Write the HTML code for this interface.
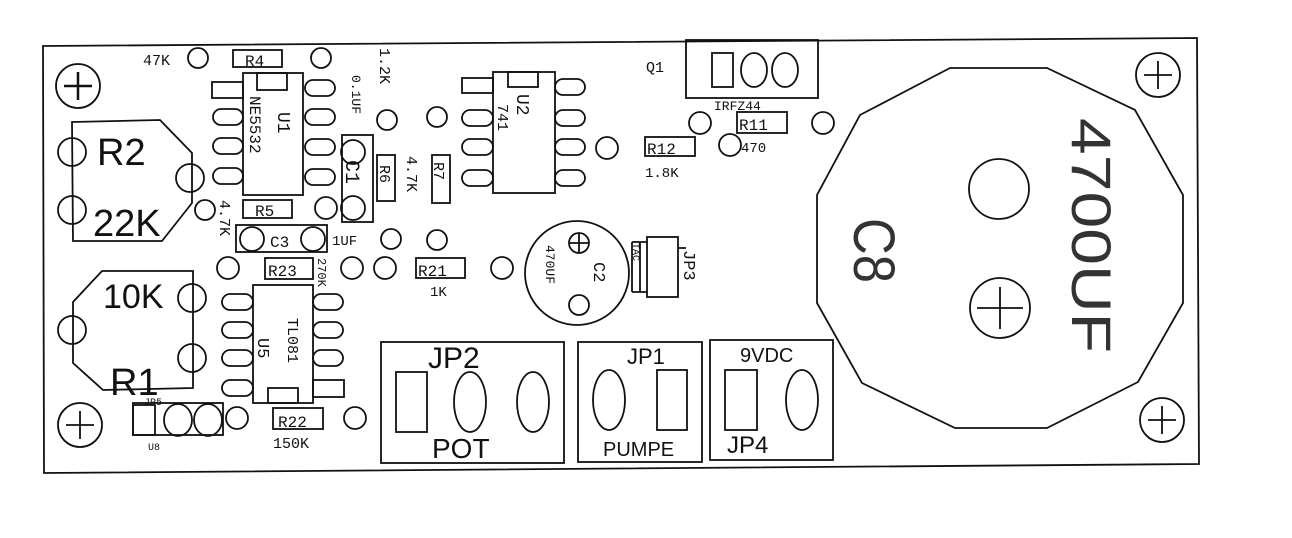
<!DOCTYPE html>
<html><head><style>body{margin:0;background:#fff}svg{display:block}</style></head><body>
<svg width="1292" height="538" viewBox="0 0 1292 538" xmlns="http://www.w3.org/2000/svg" font-family="Liberation Sans, sans-serif" fill="none" stroke="#111" stroke-width="1.8">
<polygon points="43,46 1197,38 1199,464 44,473"/>
<g>
<circle cx="78" cy="86" r="22"/><path d="M64,86h28M78,72v28" stroke-width="2.5"/>
<circle cx="80" cy="425" r="22"/><path d="M66,425h28M80,411v28"/>
<circle cx="1158" cy="75" r="22"/><path d="M1144,75h28M1158,61v28"/>
<circle cx="1162" cy="420" r="22"/><path d="M1148,420h28M1162,406v28"/>
</g>
<polygon points="950,68 1047,68 1135,110 1183,195 1183,303 1138,382 1047,428 955,428 862,383 817,303 817,195 860,115"/>
<circle cx="999" cy="189" r="30"/>
<circle cx="1000" cy="308" r="30"/><path d="M977,308h46M1000,287v42"/>
<g fill="#333" stroke="none">
<text transform="translate(1072,118) rotate(90)" font-size="56" textLength="235" lengthAdjust="spacingAndGlyphs">4700UF</text>
<text transform="translate(854,218) rotate(90)" font-size="58" textLength="65" lengthAdjust="spacingAndGlyphs">C8</text>
</g>
<circle cx="198" cy="58" r="10"/><rect x="233" y="50" width="49" height="17"/><circle cx="321" cy="58" r="10"/>
<rect x="243" y="73" width="60" height="122"/><rect x="257" y="73" width="30" height="17"/>
<rect x="212" y="82" width="31" height="16"/>
<rect x="213" y="109" width="30" height="16" rx="8"/><rect x="213" y="138" width="30" height="16" rx="8"/><rect x="213" y="168" width="30" height="16" rx="8"/>
<rect x="305" y="80" width="30" height="16" rx="8"/><rect x="305" y="109" width="30" height="16" rx="8"/><rect x="305" y="139" width="30" height="16" rx="8"/><rect x="305" y="169" width="30" height="16" rx="8"/>
<polygon points="72,122 160,120 192,153 192,203 162,241 73,241"/>
<circle cx="72" cy="152" r="14"/><circle cx="72" cy="210" r="14"/><circle cx="190" cy="178" r="14"/><circle cx="205" cy="210" r="10"/>
<circle cx="387" cy="120" r="10"/>
<rect x="342" y="135" width="31" height="87"/><circle cx="353" cy="152" r="12"/><circle cx="353" cy="208" r="12"/>
<rect x="377" y="155" width="18" height="46"/>
<rect x="432" y="155" width="18" height="48"/>
<circle cx="437" cy="117" r="10"/><circle cx="437" cy="240" r="10"/>
<rect x="243" y="200" width="49" height="18"/><circle cx="326" cy="208" r="11"/>
<rect x="236" y="225" width="91" height="27"/><circle cx="252" cy="239" r="12"/><circle cx="313" cy="239" r="12"/>
<circle cx="391" cy="239" r="10"/>
<rect x="265" y="258" width="48" height="21"/><circle cx="228" cy="268" r="11"/><circle cx="352" cy="268" r="11"/><circle cx="385" cy="268" r="11"/>
<rect x="253" y="285" width="60" height="118"/><rect x="268" y="388" width="30" height="15"/>
<rect x="222" y="294" width="31" height="16" rx="8"/><rect x="222" y="322" width="31" height="16" rx="8"/><rect x="222" y="350" width="31" height="16" rx="8"/><rect x="222" y="380" width="31" height="16" rx="8"/>
<rect x="313" y="294" width="30" height="16" rx="8"/><rect x="313" y="322" width="30" height="16" rx="8"/><rect x="313" y="350" width="30" height="16" rx="8"/><rect x="313" y="380" width="31" height="17"/>
<polygon points="73,302 102,271 193,271 193,388 103,390 73,363"/>
<circle cx="72" cy="330" r="14"/><circle cx="192" cy="298" r="14"/><circle cx="192" cy="358" r="14"/>
<rect x="133" y="403" width="90" height="32"/><rect x="133" y="405" width="22" height="30"/>
<ellipse cx="178" cy="420" rx="14" ry="16"/><ellipse cx="208" cy="420" rx="14" ry="16"/>
<circle cx="237" cy="418" r="11"/><rect x="273" y="408" width="50" height="21"/><circle cx="355" cy="418" r="11"/>
<rect x="493" y="72" width="62" height="121"/><rect x="508" y="72" width="30" height="15"/>
<rect x="462" y="78" width="31" height="15"/>
<rect x="462" y="110" width="31" height="16" rx="8"/><rect x="462" y="139" width="31" height="16" rx="8"/><rect x="462" y="170" width="31" height="16" rx="8"/>
<rect x="555" y="79" width="30" height="16" rx="8"/><rect x="555" y="110" width="30" height="16" rx="8"/><rect x="555" y="139" width="30" height="16" rx="8"/><rect x="555" y="170" width="30" height="16" rx="8"/>
<circle cx="607" cy="148" r="11"/>
<rect x="645" y="137" width="50" height="19"/>
<rect x="686" y="40" width="132" height="58"/><rect x="712" y="53" width="21" height="34"/>
<ellipse cx="754" cy="70" rx="13" ry="17"/><ellipse cx="785" cy="70" rx="13" ry="17"/>
<circle cx="700" cy="123" r="11"/><rect x="737" y="112" width="50" height="21"/><circle cx="823" cy="123" r="11"/><circle cx="730" cy="145" r="11"/>
<circle cx="577" cy="273" r="52"/>
<circle cx="579" cy="243" r="10"/><path d="M569,243h20M579,233v20"/>
<circle cx="579" cy="305" r="10"/>
<rect x="647" y="237" width="31" height="60"/><path d="M632,242h15M632,292h15M632,242v50M640,242v50M678,248h8"/>
<rect x="416" y="258" width="49" height="20"/><circle cx="502" cy="268" r="11"/>
<rect x="381" y="342" width="183" height="121"/><rect x="396" y="372" width="31" height="60"/>
<ellipse cx="470" cy="402" rx="16" ry="30"/><ellipse cx="533" cy="402" rx="16" ry="30"/>
<rect x="578" y="342" width="124" height="120"/><ellipse cx="609" cy="400" rx="16" ry="30"/><rect x="657" y="370" width="30" height="60"/>
<rect x="710" y="340" width="123" height="120"/><rect x="725" y="370" width="32" height="60"/><ellipse cx="802" cy="400" rx="16" ry="30"/>
<g fill="#111" stroke="none" font-family="Liberation Mono, monospace">
<text x="143" y="65" font-size="15">47K</text>
<text x="245" y="66" font-size="16">R4</text>
<text transform="translate(278,112) rotate(90)" font-size="18">U1</text>
<text transform="translate(250,96) rotate(90)" font-size="16">NE5532</text>
<text x="97" y="165" font-size="38" font-family="Liberation Sans, sans-serif">R2</text>
<text x="93" y="236" font-size="38" font-family="Liberation Sans, sans-serif">22K</text>
<text transform="translate(380,48) rotate(90)" font-size="15">1.2K</text>
<text transform="translate(352,75) rotate(90)" font-size="13">0.1UF</text>
<text transform="translate(346,160) rotate(90)" font-size="20">C1</text>
<text transform="translate(380,165) rotate(90)" font-size="15">R6</text>
<text transform="translate(407,156) rotate(90)" font-size="15">4.7K</text>
<text transform="translate(434,162) rotate(90)" font-size="15">R7</text>
<text transform="translate(220,200) rotate(90)" font-size="15">4.7K</text>
<text x="255" y="216" font-size="16">R5</text>
<text x="270" y="247" font-size="16">C3</text>
<text x="332" y="245" font-size="14">1UF</text>
<text x="268" y="276" font-size="16">R23</text>
<text transform="translate(318,258) rotate(90)" font-size="12">270K</text>
<text transform="translate(288,318) rotate(90)" font-size="15">TL081</text>
<text transform="translate(258,338) rotate(90)" font-size="17">U5</text>
<text x="103" y="308" font-size="34" font-family="Liberation Sans, sans-serif">10K</text>
<text x="110" y="395" font-size="38" font-family="Liberation Sans, sans-serif">R1</text>
<text x="144" y="405" font-size="10">JP5</text>
<text x="148" y="450" font-size="10">U8</text>
<text x="278" y="427" font-size="16">R22</text>
<text x="273" y="448" font-size="15">150K</text>
<text transform="translate(517,94) rotate(90)" font-size="18">U2</text>
<text transform="translate(498,104) rotate(90)" font-size="15">741</text>
<text x="646" y="72" font-size="15">Q1</text>
<text x="714" y="110" font-size="13">IRFZ44</text>
<text x="739" y="130" font-size="16">R11</text>
<text x="741" y="152" font-size="14">470</text>
<text x="647" y="154" font-size="16">R12</text>
<text x="645" y="177" font-size="14">1.8K</text>
<text x="418" y="276" font-size="16">R21</text>
<text x="430" y="296" font-size="14">1K</text>
<text transform="translate(594,262) rotate(90)" font-size="17">C2</text>
<text transform="translate(546,245) rotate(90)" font-size="13">470UF</text>
<text transform="translate(684,250) rotate(90)" font-size="17">JP3</text>
<text transform="translate(633,243) rotate(90)" font-size="10">TAC</text>
</g>
<g fill="#111" stroke="none" font-family="Liberation Sans, sans-serif">
<text x="428" y="368" font-size="30">JP2</text>
<text x="432" y="458" font-size="28">POT</text>
<text x="627" y="364" font-size="22">JP1</text>
<text x="603" y="456" font-size="20">PUMPE</text>
<text x="740" y="362" font-size="20">9VDC</text>
<text x="727" y="453" font-size="24">JP4</text>
</g>
</svg>
</body></html>
